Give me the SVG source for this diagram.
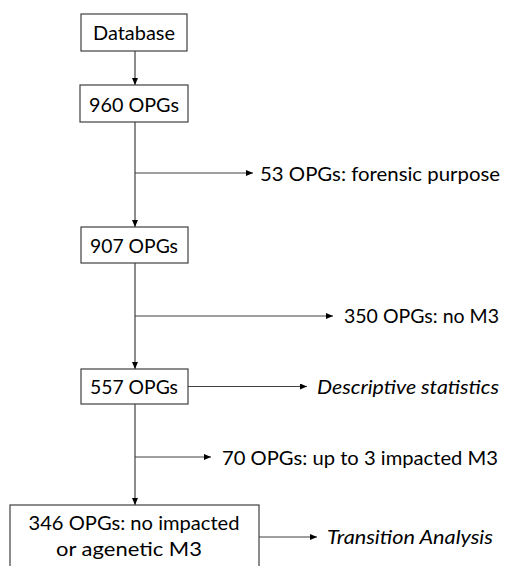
<svg xmlns="http://www.w3.org/2000/svg" width="506" height="566" viewBox="0 0 506 566">
<defs>
<marker id="arr" markerWidth="7" markerHeight="6" refX="7" refY="3" orient="auto" markerUnits="userSpaceOnUse">
<path d="M0,0 L7,3 L0,6 Z" fill="#000"/>
</marker>
<style>
.box{fill:#fff;stroke:#404040;stroke-width:1.2}
.t{font-family:Lato,"Open Sans",sans-serif;font-size:20px;fill:#000}
.c{text-anchor:middle}
.i{font-style:italic}
.ln{stroke:#404040;stroke-width:1.2;fill:none}
</style>
</defs>
<rect width="506" height="566" fill="#fff"/>
<g id="connectors">
<line class="ln" x1="135" y1="51" x2="135" y2="85" marker-end="url(#arr)"/>
<line class="ln" x1="135" y1="122" x2="135" y2="227" marker-end="url(#arr)"/>
<line class="ln" x1="135" y1="173" x2="253" y2="173" marker-end="url(#arr)"/>
<line class="ln" x1="135" y1="263" x2="135" y2="369" marker-end="url(#arr)"/>
<line class="ln" x1="135" y1="316" x2="333" y2="316" marker-end="url(#arr)"/>
<line class="ln" x1="188" y1="386.5" x2="307" y2="386.5" marker-end="url(#arr)"/>
<line class="ln" x1="135" y1="404" x2="135" y2="505" marker-end="url(#arr)"/>
<line class="ln" x1="135" y1="457" x2="211" y2="457" marker-end="url(#arr)"/>
<line class="ln" x1="259" y1="537" x2="317" y2="537" marker-end="url(#arr)"/>
</g>
<g id="database">
<rect class="box" x="81" y="14" width="106" height="37"/>
<text class="t c" x="134" y="40" textLength="82" lengthAdjust="spacingAndGlyphs">Database</text>
</g>
<g id="n960">
<rect class="box" x="80" y="85" width="108" height="37"/>
<text class="t c" x="134" y="112" textLength="90" lengthAdjust="spacingAndGlyphs">960 OPGs</text>
</g>
<g id="ex53">
<text class="t" x="260" y="181" textLength="240" lengthAdjust="spacingAndGlyphs">53 OPGs: forensic purpose</text>
</g>
<g id="n907">
<rect class="box" x="81" y="227" width="107" height="36"/>
<text class="t c" x="134" y="253" textLength="88" lengthAdjust="spacingAndGlyphs">907 OPGs</text>
</g>
<g id="ex350">
<text class="t" x="344" y="323" textLength="155" lengthAdjust="spacingAndGlyphs">350 OPGs: no M3</text>
</g>
<g id="n557">
<rect class="box" x="81" y="369" width="107" height="35"/>
<text class="t c" x="134" y="394" textLength="88" lengthAdjust="spacingAndGlyphs">557 OPGs</text>
</g>
<g id="descriptive">
<text class="t i" x="317" y="394" textLength="182" lengthAdjust="spacingAndGlyphs">Descriptive statistics</text>
</g>
<g id="ex70">
<text class="t" x="222" y="465" textLength="276" lengthAdjust="spacingAndGlyphs">70 OPGs: up to 3 impacted M3</text>
</g>
<g id="n346">
<rect class="box" x="10" y="505" width="249" height="75"/>
<text class="t c" x="134" y="530" textLength="211" lengthAdjust="spacingAndGlyphs">346 OPGs: no impacted</text>
<text class="t c" x="129" y="556" textLength="146" lengthAdjust="spacingAndGlyphs">or agenetic M3</text>
</g>
<g id="transition">
<text class="t i" x="327" y="544" textLength="166" lengthAdjust="spacingAndGlyphs">Transition Analysis</text>
</g>
</svg>
